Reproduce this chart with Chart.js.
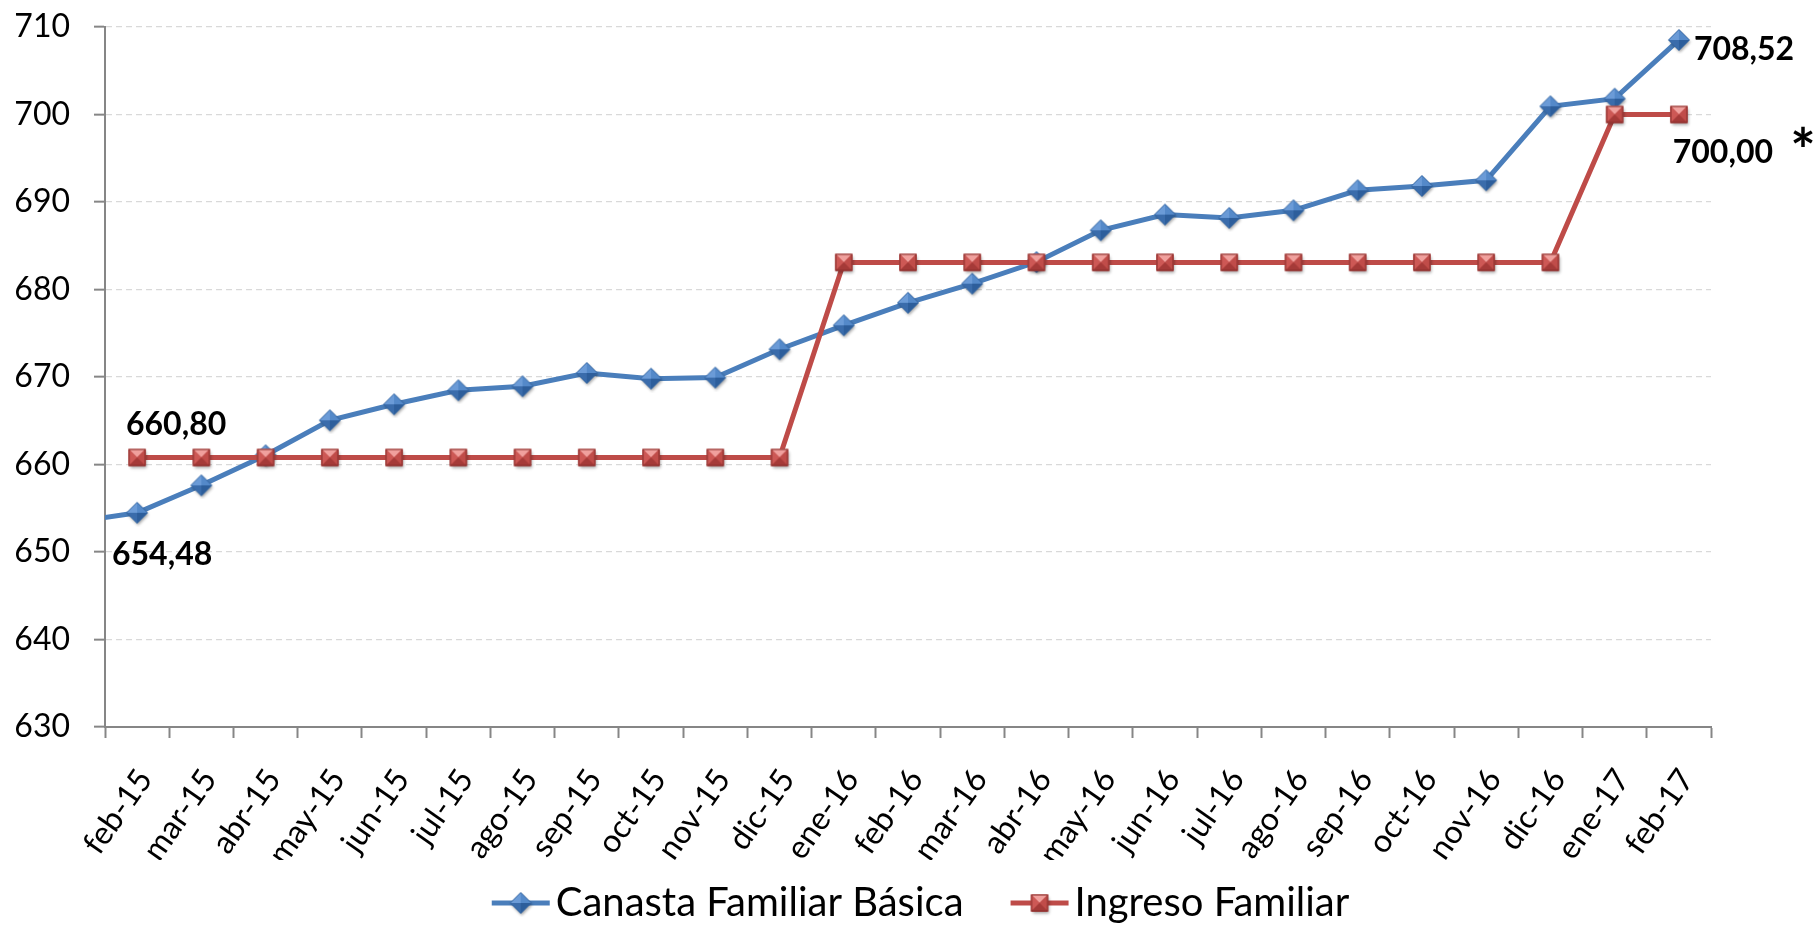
<!DOCTYPE html>
<html><head><meta charset="utf-8">
<script src="https://cdn.jsdelivr.net/npm/chart.js@4.4.1/dist/chart.umd.min.js"></script>
<style>html,body{margin:0;padding:0;background:#fff;}#wrap{width:1817px;height:926px;}</style>
</head><body><div id="wrap"><canvas id="c" width="1817" height="926"></canvas></div>
<script>
// ---- data ----
const categories = ['ene-15','feb-15','mar-15','abr-15','may-15','jun-15','jul-15','ago-15','sep-15','oct-15','nov-15','dic-15',
  'ene-16','feb-16','mar-16','abr-16','may-16','jun-16','jul-16','ago-16','sep-16','oct-16','nov-16','dic-16','ene-17','feb-17'];
const firstShown = 'feb-15';
const canastaBasica = [653.4, 654.48, 657.62, 661.05, 665.05, 666.88, 668.48, 668.94, 670.46, 669.81, 669.93, 673.17,
  675.91, 678.48, 680.67, 683.14, 686.77, 688.56, 688.18, 689.05, 691.34, 691.83, 692.48, 700.94, 701.81, 708.52];
const ingresoFamiliar = [null, 660.80, 660.80, 660.80, 660.80, 660.80, 660.80, 660.80, 660.80, 660.80, 660.80, 660.80,
  683.10, 683.10, 683.10, 683.10, 683.10, 683.10, 683.10, 683.10, 683.10, 683.10, 683.10, 683.10, 700.00, 700.00];
const seriesNames = ['Canasta Familiar Básica', 'Ingreso Familiar'];
const yMin = 630, yMax = 710, yStep = 10;

// ---- marker images ----
const BLUE = '#4a7ebb', RED = '#be4b48';
function drawDiamond(g, cx, cy, r) {
  g.save();
  g.shadowColor = 'rgba(0,0,0,0.35)'; g.shadowBlur = 3; g.shadowOffsetX = 1; g.shadowOffsetY = 2;
  g.beginPath(); g.moveTo(cx, cy - r); g.lineTo(cx + r, cy); g.lineTo(cx, cy + r); g.lineTo(cx - r, cy); g.closePath();
  g.fillStyle = '#3d70b0'; g.fill(); g.restore();
  const tri = (ax, ay, bx, by, col) => { g.beginPath(); g.moveTo(cx, cy); g.lineTo(ax, ay); g.lineTo(bx, by); g.closePath(); g.fillStyle = col; g.fill(); };
  tri(cx, cy - r, cx - r, cy, '#6b9bd7');
  tri(cx, cy - r, cx + r, cy, '#5489c9');
  tri(cx + r, cy, cx, cy + r, '#2d5e9b');
  tri(cx - r, cy, cx, cy + r, '#3a6cab');
  g.beginPath(); g.moveTo(cx, cy - r); g.lineTo(cx + r, cy); g.lineTo(cx, cy + r); g.lineTo(cx - r, cy); g.closePath();
  g.strokeStyle = '#33649f'; g.lineWidth = 0.8; g.stroke();
}
function drawSquare(g, cx, cy, a) {
  g.save();
  g.shadowColor = 'rgba(0,0,0,0.35)'; g.shadowBlur = 3; g.shadowOffsetX = 1; g.shadowOffsetY = 2;
  g.fillStyle = '#b84643'; g.fillRect(cx - a, cy - a, 2 * a, 2 * a); g.restore();
  const tri = (ax, ay, bx, by, col) => { g.beginPath(); g.moveTo(cx, cy); g.lineTo(ax, ay); g.lineTo(bx, by); g.closePath(); g.fillStyle = col; g.fill(); };
  tri(cx - a, cy - a, cx + a, cy - a, '#f0a09d');
  tri(cx - a, cy - a, cx - a, cy + a, '#cd5855');
  tri(cx + a, cy - a, cx + a, cy + a, '#c04c49');
  tri(cx - a, cy + a, cx + a, cy + a, '#a53a38');
  g.strokeStyle = '#862c2a'; g.lineWidth = 1; g.strokeRect(cx - a + 0.5, cy - a + 0.5, 2 * a - 1, 2 * a - 1);
}
function markerImg(kind) {
  const c = document.createElement('canvas'); c.width = 28; c.height = 28;
  const g = c.getContext('2d');
  if (kind === 'd') drawDiamond(g, 14, 14, 10.5); else drawSquare(g, 14, 14, 8.5);
  return c;
}
// legend symbol: transparent lead-in, then a 60px line with the marker centred on it
const LEG_BOX = 68, LEG_OVER = 15, LEG_SYM = 60;
function legendImg(kind, color) {
  const c = document.createElement('canvas'); c.width = LEG_BOX + 2 * LEG_OVER; c.height = 28;
  const g = c.getContext('2d');
  const x1 = c.width - LEG_SYM, x2 = c.width;
  g.strokeStyle = color; g.lineWidth = 5; g.beginPath(); g.moveTo(x1 + 1, 14); g.lineTo(x2 - 1, 14); g.stroke();
  const cx = (x1 + x2) / 2;
  if (kind === 'd') drawDiamond(g, cx, 14, 10.5); else drawSquare(g, cx, 14, 8.5);
  return c;
}
const diamondImg = markerImg('d'), squareImg = markerImg('s');
const legendImgs = [legendImg('d', BLUE), legendImg('s', RED)];

const fmt = v => v.toFixed(2).replace('.', ',');

const labelPlugin = {
  id: 'valueLabels',
  afterDatasetsDraw(chart) {
    const ctx = chart.ctx;
    const mb = chart.getDatasetMeta(0), mr = chart.getDatasetMeta(1);
    const first = categories.indexOf(firstShown), last = categories.length - 1;
    const items = [
      {meta: mr, data: ingresoFamiliar, i: first, dx: 39, dy: -33, align: 'center'},
      {meta: mb, data: canastaBasica, i: first, dx: 25, dy: 42, align: 'center'},
      {meta: mb, data: canastaBasica, i: last, dx: 15, dy: 10, align: 'left'},
      {meta: mr, data: ingresoFamiliar, i: last, dx: 44, dy: 38, align: 'center'}
    ];
    ctx.save();
    ctx.fillStyle = '#000';
    ctx.textBaseline = 'middle';
    ctx.font = 'bold 32px Lato';
    items.forEach(it => {
      const p = it.meta.data[it.i];
      ctx.textAlign = it.align;
      ctx.fillText(fmt(it.data[it.i]), p.x + it.dx, p.y + it.dy);
    });
    const pr = mr.data[last];
    ctx.font = 'bold 60px Lato';
    ctx.textAlign = 'center';
    ctx.fillText('*', pr.x + 124, pr.y + 38);
    ctx.restore();
  }
};

new Chart(document.getElementById('c'), {
  type: 'line',
  data: {
    labels: categories,
    datasets: [
      {label: seriesNames[0], data: canastaBasica, borderColor: BLUE, backgroundColor: BLUE, borderWidth: 5,
       pointStyle: diamondImg, pointRadius: 10, pointHoverRadius: 10, tension: 0, order: 1},
      {label: seriesNames[1], data: ingresoFamiliar, borderColor: RED, backgroundColor: RED, borderWidth: 5,
       pointStyle: squareImg, pointRadius: 10, pointHoverRadius: 10, tension: 0, order: 0}
    ]
  },
  options: {
    responsive: false, animation: false, devicePixelRatio: 1,
    layout: {padding: {left: 0, top: 27, right: 0, bottom: -7}},
    plugins: {
      tooltip: {enabled: false},
      legend: {
        position: 'bottom',
        labels: {
          usePointStyle: true, pointStyleWidth: LEG_BOX, padding: 23, color: '#000',
          font: {family: 'Lato', size: 40},
          generateLabels: chart => chart.data.datasets.map((ds, i) => ({
            text: ds.label, pointStyle: legendImgs[i], datasetIndex: i, fillStyle: ds.borderColor,
            strokeStyle: ds.borderColor, lineWidth: 0, hidden: false, fontColor: '#000'
          }))
        }
      }
    },
    scales: {
      x: {
        type: 'category', min: firstShown, offset: true,
        grid: {offset: true, drawOnChartArea: false, drawTicks: true, tickLength: 11, tickColor: '#868686', tickWidth: 2},
        border: {color: '#868686', width: 2},
        ticks: {color: '#000', font: {family: 'Lato', size: 32}, minRotation: 55, maxRotation: 55, autoSkip: false, padding: 24, labelOffset: 8},
        afterFit: s => { s.height = 133; }
      },
      y: {
        min: yMin, max: yMax,
        ticks: {stepSize: yStep, color: '#000', font: {family: 'Lato', size: 32}, padding: 24},
        grid: {color: '#d9d9d9', lineWidth: 1.3, tickLength: 11, tickColor: '#868686', tickWidth: 2, tickBorderDash: []},
        border: {color: '#868686', width: 2, dash: [6, 4]},
        afterFit: s => { s.width = 105; s.paddingTop = 16; s.paddingBottom = 16; }
      },
      y2: {
        position: 'right', display: true,
        grid: {display: false, drawTicks: false}, ticks: {display: false}, border: {display: false},
        afterFit: s => { s.width = 106; }
      }
    }
  },
  plugins: [labelPlugin]
});
</script></body></html>
